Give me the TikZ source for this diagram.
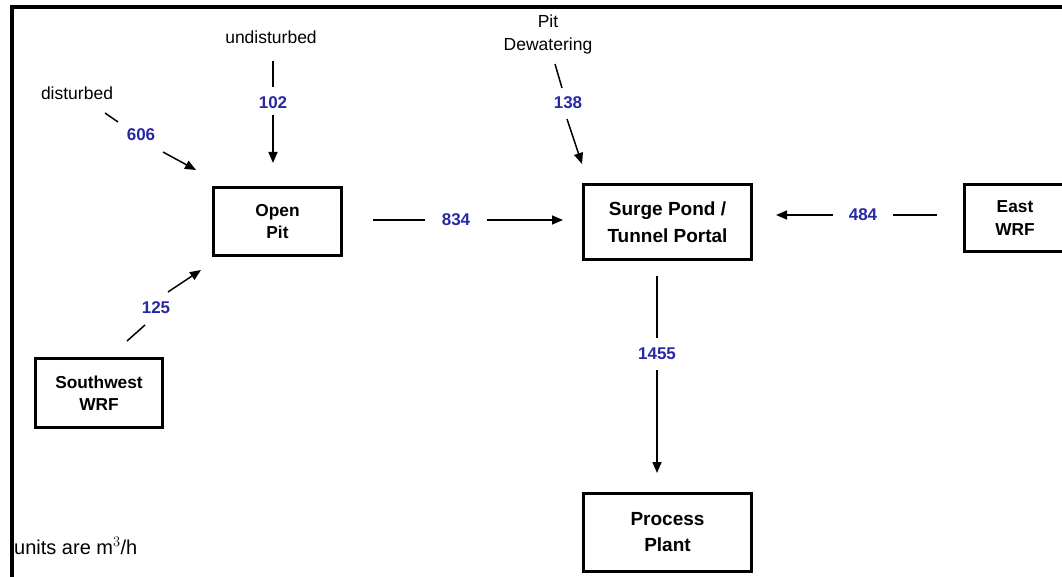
\documentclass[tikz,border=0pt]{standalone}
\usepackage{fontspec}
\setmainfont{Liberation Sans}
\usetikzlibrary{arrows.meta}
\definecolor{flowblue}{RGB}{40,40,165}
\begin{document}
\begin{tikzpicture}[x=1pt,y=-1pt,
  unitbox/.style={draw, line width=3pt, inner sep=0pt, align=center,
    font=\fontsize{17.3}{22.5}\selectfont\bfseries},
  bigbox/.style={unitbox, font=\fontsize{19}{27}\selectfont\bfseries},
  flowval/.style={inner sep=1pt, text=flowblue, font=\fontsize{17}{20}\selectfont\bfseries},
  srclabel/.style={inner sep=1pt, align=center, font=\fontsize{17.5}{23}\selectfont},
  pipe/.style={line width=1.5pt},
  feed/.style={pipe, -{Triangle[length=11pt,width=9pt]}}]

% page extent and clipping
\useasboundingbox (0,0) rectangle (1062,577);
\clip (0,0) rectangle (1062,577);

% frame on the top and left
\draw[line width=4pt] (11.5,580) -- (11.5,7) -- (1065,7);

% facilities
\node[unitbox, minimum width=128pt, minimum height=68pt] (pit) at (277.5,221.5) {Open\\Pit};
\node[bigbox, minimum width=168pt, minimum height=75pt] (surge) at (667.5,222) {Surge Pond /\\Tunnel Portal};
\node[unitbox, minimum width=101pt, minimum height=67pt] (east) at (1015,218) {East\\WRF};
\node[unitbox, minimum width=127pt, minimum height=69pt] (sw) at (99,393) {Southwest\\WRF};
\node[bigbox, minimum width=168pt, minimum height=78pt, font=\fontsize{19}{26}\selectfont\bfseries] (plant) at (667.5,532.5) {Process\\Plant};

% sources
\node[srclabel] (dist) at (77,93) {disturbed};
\node[srclabel] (undist) at (271,37) {undisturbed};
\node[srclabel] (dewater) at (548,34) {Pit\\Dewatering};
\node[anchor=west, inner sep=0pt, font=\fontsize{20}{23}\selectfont] (units) at (14,546) {units are m$^{3}$/h};

% flow values
\node[flowval] (f606) at (141,135) {606};
\node[flowval] (f102) at (273,103) {102};
\node[flowval] (f138) at (568,103) {138};
\node[flowval] (f834) at (456,220) {834};
\node[flowval] (f484) at (863,215) {484};
\node[flowval] (f125) at (156,308) {125};
\node[flowval] (f1455) at (657,354) {1455};

% connector ends
\coordinate (d1) at (105,113); \coordinate (d2) at (118,122);
\coordinate (d3) at (163,152); \coordinate (d4) at (196,170);
\coordinate (u1) at (273,61);  \coordinate (u2) at (273,87);
\coordinate (u3) at (273,115); \coordinate (u4) at (273,163);
\coordinate (w1) at (555,64);  \coordinate (w2) at (562,88);
\coordinate (w3) at (567,119); \coordinate (w4) at (582,164);
\coordinate (p1) at (373,220); \coordinate (p2) at (425,220);
\coordinate (p3) at (487,220); \coordinate (p4) at (563,220);
\coordinate (e1) at (937,215); \coordinate (e2) at (893,215);
\coordinate (e3) at (833,215); \coordinate (e4) at (776,215);
\coordinate (s1) at (127,341); \coordinate (s2) at (145,325);
\coordinate (s3) at (168,292); \coordinate (s4) at (201,270);
\coordinate (t1) at (657,276); \coordinate (t2) at (657,338);
\coordinate (t3) at (657,370); \coordinate (t4) at (657,473);

% flows
\draw[pipe] (d1) -- (d2);  \draw[feed] (d3) -- (d4);
\draw[pipe] (u1) -- (u2);  \draw[feed] (u3) -- (u4);
\draw[pipe] (w1) -- (w2);  \draw[feed] (w3) -- (w4);
\draw[pipe] (p1) -- (p2);  \draw[feed] (p3) -- (p4);
\draw[pipe] (e1) -- (e2);  \draw[feed] (e3) -- (e4);
\draw[pipe] (s1) -- (s2);  \draw[feed] (s3) -- (s4);
\draw[pipe] (t1) -- (t2);  \draw[feed] (t3) -- (t4);
\end{tikzpicture}
\end{document}
